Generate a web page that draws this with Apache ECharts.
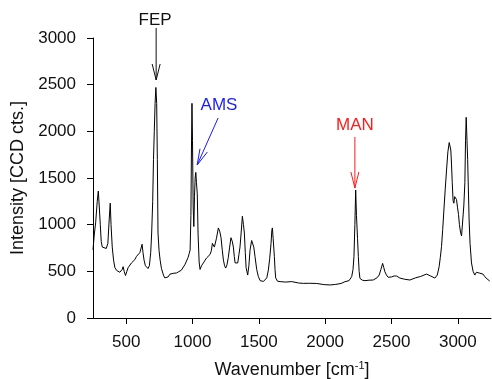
<!DOCTYPE html>
<html><head><meta charset="utf-8">
<script src="https://cdn.jsdelivr.net/npm/echarts@6/dist/echarts.min.js"></script>
<style>html,body{margin:0;padding:0;background:#fff}#c{width:492px;height:379px}</style>
</head><body><div id="c"></div>
<script>
const wavenumbers = [250,260,270,282,290,297,305,312,320,335,350,362,372,380,386,395,405,415,428,440,452,462,470,477,485,495,505,515,528,540,553,565,578,590,603,612,620,627,635,645,655,665,675,685,692,700,706,712,718,724,730,735,740,748,756,766,781,791,801,816,830,845,860,879,895,916,930,942,955,967,975,982,988,992,996,1000,1005,1010,1015,1020,1025,1030,1036,1042,1050,1057,1068,1082,1095,1107,1120,1132,1142,1150,1158,1165,1180,1195,1205,1215,1225,1233,1242,1250,1260,1270,1280,1290,1300,1308,1315,1321,1330,1341,1350,1358,1366,1376,1384,1391,1398,1404,1416,1425,1434,1446,1454,1462,1471,1484,1496,1510,1522,1535,1547,1560,1572,1582,1592,1598,1602,1608,1617,1622,1627,1640,1660,1700,1748,1800,1835,1880,1936,1990,2036,2080,2120,2149,2180,2200,2210,2217,2224,2230,2236,2244,2250,2256,2262,2280,2300,2330,2362,2390,2407,2420,2433,2442,2450,2462,2475,2500,2520,2538,2563,2600,2639,2680,2720,2764,2795,2827,2845,2859,2868,2877,2886,2895,2905,2915,2925,2935,2940,2947,2952,2958,2964,2970,2976,2982,2990,2998,3005,3012,3020,3028,3035,3045,3053,3058,3063,3068,3074,3080,3085,3092,3103,3115,3128,3140,3150,3166,3180,3190,3203,3220,3241];
const intensity = [730,900,1020,1250,1360,1200,1000,820,760,740,745,800,1050,1230,1000,760,620,540,510,505,490,480,520,550,500,455,500,540,560,590,610,625,660,680,700,720,790,700,620,560,540,530,560,700,900,1250,1700,2000,2300,2470,2300,1700,910,720,620,530,460,430,418,440,470,490,480,482,495,512,530,570,610,650,690,730,1100,1800,2300,1900,1200,980,1300,1500,1560,1450,1330,900,600,520,560,590,620,645,660,680,720,800,780,760,850,965,930,860,720,620,560,535,570,650,760,860,820,760,660,590,580,590,680,760,900,1090,1000,910,700,540,460,560,730,830,840,760,660,520,445,400,390,392,400,430,515,640,800,940,965,850,660,520,430,395,390,385,390,375,371,372,370,358,354,360,370,389,400,443,520,660,1000,1371,1100,850,660,500,425,405,400,405,407,430,460,520,585,540,496,460,436,440,450,450,428,415,407,430,445,471,450,428,460,550,650,764,950,1157,1380,1586,1780,1880,1895,1800,1660,1450,1260,1230,1300,1320,1270,1180,1110,1000,920,880,900,1200,1450,1900,2150,2150,1700,1350,1050,800,590,500,460,490,470,480,460,470,443,420,395];
const xTicks = [500,1000,1500,2000,2500,3000];
const yMin = 0, yMax = 3000, yStep = 500;
const xMin = 250, xMax = 3250;
const annotations = [
  {text:'FEP', color:'#111111', label:[718,3190], from:[726,3107], to:[726,2550]},
  {text:'AMS', color:'#1a1aff', label:[1200,2282], from:[1193,2143], to:[1035,1639]},
  {text:'MAN', color:'#ff1a1a', label:[2224,2068], from:[2224,1939], to:[2224,1393]}
];
const FONT = 'Liberation Sans, Arial, sans-serif';
const chart = echarts.init(document.getElementById('c'), null, {renderer:'canvas'});
chart.setOption({
  animation:false,
  backgroundColor:'#ffffff',
  grid:{left:93, right:1, top:38, bottom:61, containLabel:false, outerBoundsMode:'none'},
  xAxis:{
    type:'value', min:xMin, max:xMax,
    name:'Wavenumber [cm{sup|-1}]',
    nameLocation:'middle', nameGap:42,
    nameTextStyle:{fontFamily:FONT, fontSize:18, color:'#111',
      rich:{sup:{fontFamily:FONT, fontSize:11, color:'#111', verticalAlign:'top', padding:[0,0,10,0]}}},
    axisLine:{show:true, lineStyle:{color:'#000', width:1}},
    axisTick:{show:true, length:6, lineStyle:{color:'#000'}, customValues:xTicks},
    axisLabel:{fontFamily:FONT, fontSize:17, color:'#111', margin:16, customValues:xTicks, formatter:v=>String(v)},
    splitLine:{show:false}
  },
  yAxis:{
    type:'value', min:yMin, max:yMax, interval:yStep,
    name:'Intensity [CCD cts.]',
    nameLocation:'middle', nameGap:62,
    nameTextStyle:{fontFamily:FONT, fontSize:18, color:'#111'},
    axisLine:{show:true, lineStyle:{color:'#000', width:1}},
    axisTick:{show:true, length:6, lineStyle:{color:'#000'}},
    axisLabel:{fontFamily:FONT, fontSize:17, color:'#111', margin:17, formatter:v=>String(v)},
    splitLine:{show:false}
  },
  series:[{
    type:'line',
    data: wavenumbers.map((w,i)=>[w, intensity[i]]),
    showSymbol:false, symbol:'none', clip:false,
    lineStyle:{color:'#000', width:1}
  }]
});
const els = [];
annotations.forEach(a=>{
  const p = chart.convertToPixel({gridIndex:0}, a.label);
  const f = chart.convertToPixel({gridIndex:0}, a.from);
  const t = chart.convertToPixel({gridIndex:0}, a.to);
  const dx = t[0]-f[0], dy = t[1]-f[1], L = Math.hypot(dx,dy);
  const ux = dx/L, uy = dy/L, nx = -uy, ny = ux;
  const back = 16, half = 4;
  els.push({type:'text', x:p[0], y:p[1], silent:true,
    style:{text:a.text, fill:a.color, font:'17px ' + FONT, align:'center', verticalAlign:'middle'}});
  els.push({type:'line', silent:true, shape:{x1:f[0], y1:f[1], x2:t[0], y2:t[1]},
    style:{stroke:a.color, lineWidth:1}});
  els.push({type:'polyline', silent:true,
    shape:{points:[[t[0]-back*ux+half*nx, t[1]-back*uy+half*ny],[t[0],t[1]],[t[0]-back*ux-half*nx, t[1]-back*uy-half*ny]]},
    style:{stroke:a.color, lineWidth:1, fill:null}});
});
chart.setOption({graphic: els});
</script></body></html>
